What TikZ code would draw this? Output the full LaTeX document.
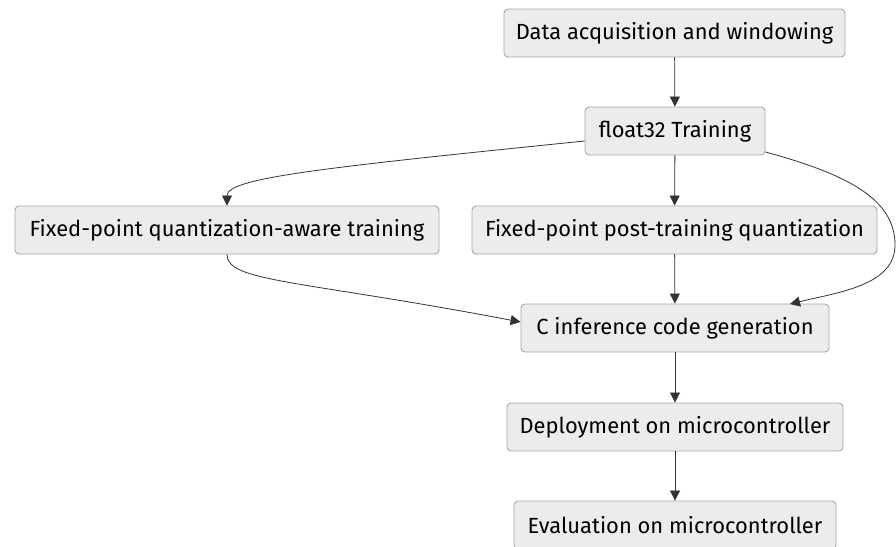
\documentclass[tikz,border=0pt]{standalone}
\usepackage{fontspec}
\setmainfont{Fira Sans}
\usetikzlibrary{arrows.meta}
\definecolor{boxfill}{HTML}{ECECEC}
\definecolor{boxline}{HTML}{A6A6A6}
\definecolor{edgecol}{HTML}{333333}
\begin{document}
\begin{tikzpicture}[x=1pt,y=-1pt,
  box/.style={draw=boxline, fill=boxfill, rounded corners=4pt, line width=0.9pt,
    minimum height=48pt, inner sep=0pt, text=black,
    font=\fontsize{21.9}{24}\selectfont},
  edge/.style={draw=edgecol, line width=0.8pt, -{Triangle[length=10pt,width=10pt]}}]
\useasboundingbox (0,0) rectangle (896,546);
\clip (0,0) rectangle (896,546);
\node[box, minimum width=341pt] (a) at (674.5,33) {Data acquisition and windowing};
\node[box, minimum width=180pt] (b) at (675,131) {float32 Training};
\node[box, minimum width=424pt] (c) at (227,230) {Fixed-point quantization-aware training};
\node[box, minimum width=405pt] (d) at (674.5,230) {Fixed-point post-training quantization};
\node[box, minimum width=308pt] (e) at (675,328) {C inference code generation};
\node[box, minimum width=336pt] (f) at (675,427) {Deployment on microcontroller};
\node[box, minimum width=322pt] (g) at (675,525) {Evaluation on microcontroller};
\draw[edge] (a) -- (b);
\draw[edge] (b) -- (d);
\draw[edge] (d) -- (e);
\draw[edge] (e) -- (f);
\draw[edge] (f) -- (g);
\draw[edge] (b.west |- 0,141) .. controls (320,168) and (227,178) .. (c.north);
\draw[edge] (c.south) .. controls (227,282) and (300,280) .. (e.west |- 0,322);
\draw[edge] (b.east |- 0,152) .. controls (850,175) and (895,200) .. (895,245)
  .. controls (895,285) and (840,292) .. (790,304);
\end{tikzpicture}
\end{document}
